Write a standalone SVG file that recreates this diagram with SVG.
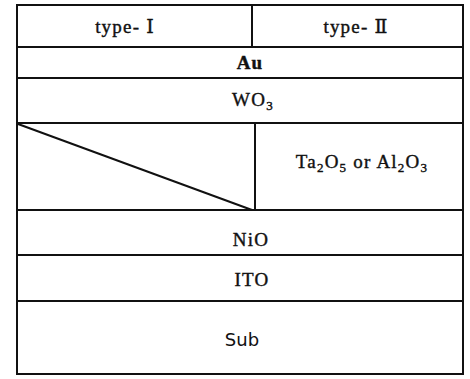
<svg xmlns="http://www.w3.org/2000/svg" width="470" height="379" viewBox="0 0 470 379">
<style>
.l{fill:none;stroke:#111;stroke-width:2}
.t{font-family:"Liberation Serif",serif;font-size:19px;fill:#111;stroke:#111;stroke-width:0.4;text-anchor:middle;letter-spacing:1.2px}
.s{font-family:"DejaVu Sans",sans-serif;font-size:18px;fill:#111;text-anchor:middle}
.r{font-family:"DejaVu Serif",serif;font-size:19px}
.sub{font-size:13px}
</style>
<rect width="470" height="379" fill="#fff"/>
<g id="frame"><rect class="l" x="17" y="5" width="446" height="369"/></g>
<g id="connectors">
<line class="l" x1="17" y1="47" x2="463" y2="47"/>
<line class="l" x1="17" y1="78" x2="463" y2="78"/>
<line class="l" x1="17" y1="123" x2="463" y2="123"/>
<line class="l" x1="17" y1="210" x2="463" y2="210"/>
<line class="l" x1="17" y1="255" x2="463" y2="255"/>
<line class="l" x1="17" y1="301" x2="463" y2="301"/>
<line class="l" x1="252" y1="5" x2="252" y2="47"/>
<line class="l" x1="255" y1="123" x2="255" y2="210"/>
<line class="l" x1="18" y1="124" x2="252" y2="210"/>
</g>
<g id="type1"><text class="t" x="125" y="33">type- <tspan class="r">Ⅰ</tspan></text></g>
<g id="type2"><text class="t" x="356" y="33">type- <tspan class="r">Ⅱ</tspan></text></g>
<g id="au"><text class="t" x="250" y="69" font-weight="bold" stroke-width="0.2">Au</text></g>
<g id="wo3"><text class="t" x="253" y="106">WO<tspan class="sub" dy="4">3</tspan></text></g>
<g id="ta2o5"><text class="t" x="362" y="168">Ta<tspan class="sub" dy="4">2</tspan><tspan dy="-4">O</tspan><tspan class="sub" dy="4">5</tspan><tspan dy="-4"> or  Al</tspan><tspan class="sub" dy="4">2</tspan><tspan dy="-4">O</tspan><tspan class="sub" dy="4">3</tspan></text></g>
<g id="nio"><text class="t" x="251" y="246">NiO</text></g>
<g id="ito"><text class="t" x="252" y="286">ITO</text></g>
<g id="sub"><text class="s" x="242" y="346">Sub</text></g>
</svg>
